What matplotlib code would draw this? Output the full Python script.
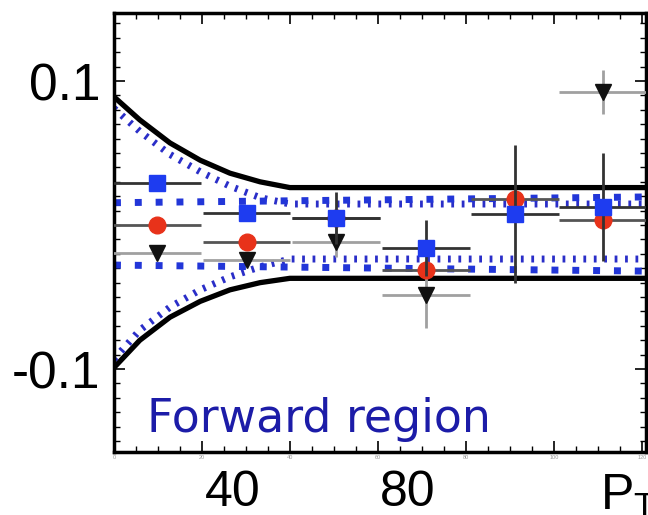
import matplotlib
matplotlib.use('Agg')
import matplotlib.pyplot as plt
import numpy as np
from matplotlib.ticker import MultipleLocator, NullFormatter

plt.rcParams['font.family'] = ['Liberation Sans', 'DejaVu Sans']
plt.rcParams['mathtext.fontset'] = 'custom'
plt.rcParams['mathtext.rm'] = 'Liberation Sans'
plt.rcParams['mathtext.it'] = 'Liberation Sans'

# PT bins (centres, half width)
pt_bins = [22.6, 43.1, 63.6, 84.1, 104.5, 124.6]
pt_half = 10.0

# blue squares
sq_val = [0.0292, 0.0083, 0.0049, -0.0160, 0.0076, 0.0125]
sq_err = [0.004, 0.004, 0.018, 0.0194, 0.048, 0.0375]
# red circles
circ_val = [0.0, -0.0118, 0.0049, -0.0313, 0.018, 0.0035]
circ_err = [0.004, 0.004, 0.004, 0.004, 0.004, 0.004]
# black triangles
tri_val = [-0.0194, -0.0243, -0.0118, -0.0486, np.nan, 0.0924]
tri_err = [0.004, 0.004, 0.0104, 0.023, 0.0, 0.0155]

# systematic envelopes
env_x = [12.8, 18.7, 25.6, 32.5, 39.3, 46.2, 53.0, 134.4]
black_hi = [0.089, 0.073, 0.057, 0.045, 0.036, 0.030, 0.026, 0.026]
black_lo = [-0.099, -0.080, -0.064, -0.053, -0.045, -0.040, -0.037, -0.037]
fine_hi = [0.081, 0.065, 0.049, 0.037, 0.027, 0.019, 0.0146, 0.0146]
fine_lo = [-0.093, -0.073, -0.057, -0.045, -0.036, -0.029, -0.0236, -0.0236]
flat_x = [12.8, 134.4]
flat_hi = [0.0155, 0.0195]
flat_lo = [-0.0278, -0.032]

x_ticks = [40, 80]
x_labels = ['40', '80']
y_ticks = [-0.1, 0.1]
y_labels = ['-0.1', '0.1']
inner_ticks = [0, 20, 40, 60, 80, 100, 120]

fig = plt.figure(figsize=(6.48, 5.15), dpi=100)
ax = fig.add_axes([0.1759, 0.1223, 0.821, 0.8524])

ax.plot(env_x, black_hi, color='black', lw=3.8, zorder=2)
ax.plot(env_x, black_lo, color='black', lw=3.8, zorder=2)
ax.plot(env_x, fine_hi, color='#2a2ec8', lw=5, linestyle=(0, (0.4, 1.1)), zorder=2)
ax.plot(env_x, fine_lo, color='#2a2ec8', lw=5, linestyle=(0, (0.4, 1.1)), zorder=2)
ax.plot(flat_x, flat_hi, color='#2236d8', lw=5, linestyle=(0, (1, 2)), zorder=2)
ax.plot(flat_x, flat_lo, color='#2236d8', lw=5, linestyle=(0, (1, 2)), zorder=2)

ax.errorbar(pt_bins, circ_val, xerr=pt_half, yerr=circ_err, fmt='o', color='#e8321a',
            ms=12, ecolor='#555555', elinewidth=2, capsize=0, zorder=3)
ax.errorbar(pt_bins, tri_val, xerr=pt_half, yerr=tri_err, fmt='v', color='#111111',
            ms=11, ecolor='#a0a0a0', elinewidth=2, capsize=0, zorder=3)
ax.errorbar(pt_bins, sq_val, xerr=pt_half, yerr=sq_err, fmt='s', color='#1e3cf0',
            ms=12, ecolor='#333333', elinewidth=2, capsize=0, zorder=4)

ax.set_xlim(12.8, 134.4)
ax.set_ylim(-0.1576, 0.1472)

ax.set_xticks(x_ticks)
ax.set_xticklabels(x_labels)
ax.tick_params(axis='x', length=0, labelsize=36, pad=13)

ax.set_yticks(y_ticks)
ax.set_yticklabels(y_labels)
ax.yaxis.set_minor_locator(MultipleLocator(0.01))
ax.tick_params(axis='y', which='both', direction='in', left=True, right=True)
ax.tick_params(axis='y', which='major', length=8, width=1.2, labelsize=37, pad=10)
ax.tick_params(axis='y', which='minor', length=4, width=1)

for s in ax.spines.values():
    s.set_linewidth(2.5)

# inner axis of the original plot
def to_inner(x):
    return (x - 12.8) * 4.375 / 4.4

def from_inner(u):
    return u * 4.4 / 4.375 + 12.8

for loc in ['top', 'bottom']:
    sec = ax.secondary_xaxis(loc, functions=(to_inner, from_inner))
    sec.set_xticks(inner_ticks)
    sec.xaxis.set_minor_locator(MultipleLocator(5))
    sec.tick_params(which='major', direction='in', length=8, width=1.2)
    sec.tick_params(which='minor', direction='in', length=4, width=1)
    if loc == 'top':
        sec.xaxis.set_major_formatter(NullFormatter())
    else:
        sec.tick_params(labelsize=4, labelcolor='#999999', pad=2)

ax.text(0.062, 0.0456, 'Forward region', transform=ax.transAxes, fontsize=33,
        family='DejaVu Sans', color='#1c1ca8', va='baseline', ha='left')

fig.text(600 / 648, 5 / 515, 'P$_\\mathrm{T}$', fontsize=36, va='baseline', ha='left')

fig.savefig('out.png', dpi=100)
